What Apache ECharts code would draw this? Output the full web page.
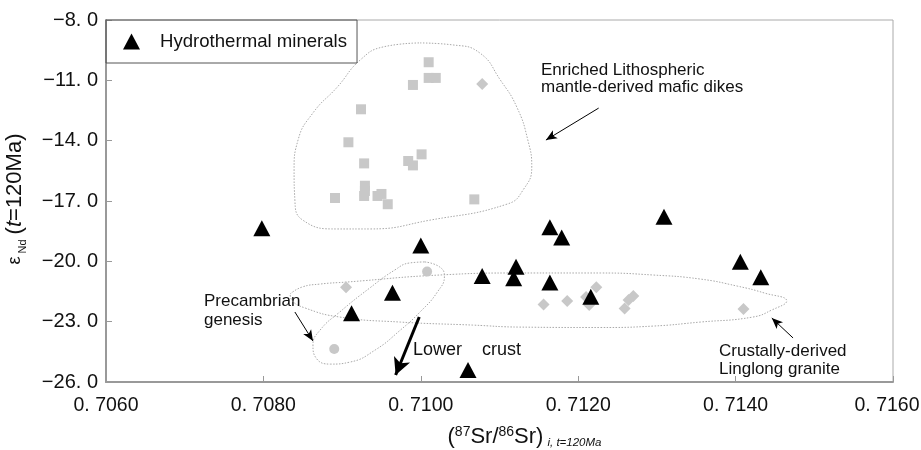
<!DOCTYPE html>
<html>
<head>
<meta charset="utf-8">
<script src="https://cdn.jsdelivr.net/npm/echarts@6/dist/echarts.min.js"></script>
<style>html,body{margin:0;padding:0;background:#fff;overflow:hidden}#c{width:921px;height:450px}</style>
</head>
<body>
<div id="c"></div>
<script>
// ---- data (x = (87Sr/86Sr)i, y = eNd(t)) ----
const xTicks = [0.706, 0.708, 0.710, 0.712, 0.714, 0.716];
const yTicks = [-26, -23, -20, -17, -14, -11, -8];

const hydrothermal = [
  [0.70798,-18.36],[0.71000,-19.21],[0.70964,-21.56],[0.70912,-22.58],[0.71060,-25.40],
  [0.71078,-20.73],[0.71121,-20.27],[0.71118,-20.84],[0.71164,-18.30],[0.71179,-18.82],
  [0.71164,-21.05],[0.71216,-21.76],[0.71309,-17.78],[0.71406,-20.02],[0.71432,-20.79]
];
const maficSquares = [
  [0.71010,-10.10],[0.71010,-10.88],[0.71019,-10.88],[0.70990,-11.23],[0.70924,-12.44],
  [0.70908,-14.08],[0.70928,-15.13],[0.71001,-14.68],[0.70984,-15.01],[0.70990,-15.23],
  [0.70929,-16.24],[0.70929,-16.50],[0.70928,-16.75],[0.70891,-16.85],[0.70945,-16.75],
  [0.70950,-16.65],[0.70958,-17.16],[0.71068,-16.92]
];
const grayDiamonds = [
  [0.71078,-11.18],
  [0.70905,-21.29],[0.71156,-22.15],[0.71186,-21.97],[0.71210,-21.77],[0.71214,-22.17],
  [0.71223,-21.29],[0.71259,-22.34],[0.71264,-21.92],[0.71270,-21.72],[0.71410,-22.37]
];
const precambrianCircles = [[0.71008,-20.51],[0.70890,-24.36]];

// envelope outlines
const enrichedField = [
  [0.70999,-9.14],[0.71041,-9.24],[0.71075,-9.64],[0.71101,-10.98],[0.71122,-12.33],
  [0.71136,-13.97],[0.71141,-15.31],[0.71130,-16.45],[0.71110,-17.15],[0.71012,-17.95],
  [0.70935,-18.39],[0.70894,-18.39],[0.70850,-17.95],[0.70840,-16.95],[0.70839,-15.46],
  [0.70844,-13.97],[0.70863,-12.62],[0.70894,-11.33],[0.70923,-9.99],[0.70952,-9.34],
  [0.70999,-9.14]
];
const linglongField = [
  [0.70834,-21.62],[0.70849,-21.28],[0.70872,-21.13],[0.70906,-21.03],[0.71024,-20.68],
  [0.71126,-20.58],[0.71228,-20.58],[0.71295,-20.68],[0.71355,-20.88],[0.71402,-21.23],
  [0.71437,-21.58],[0.71465,-21.97],[0.71446,-22.42],[0.71422,-22.77],[0.71355,-23.02],
  [0.71295,-23.22],[0.71228,-23.29],[0.71126,-23.27],[0.71066,-23.17],[0.70974,-23.02],
  [0.70897,-22.77],[0.70853,-22.32],[0.70836,-21.92],[0.70834,-21.62]
];
const precambrianField = [
  [0.71005,-20.03],[0.71024,-20.28],[0.71030,-20.73],[0.71021,-21.53],[0.70999,-22.52],
  [0.70974,-23.42],[0.70942,-24.41],[0.70910,-25.01],[0.70885,-25.11],[0.70867,-24.81],
  [0.70863,-24.16],[0.70872,-23.42],[0.70897,-22.52],[0.70935,-21.33],[0.70967,-20.43],
  [0.70986,-20.08],[0.71005,-20.03]
];
// annotation arrows [start, end]
const arrowEnriched = [[0.71226,-12.38],[0.71159,-13.97]];
const arrowPrecambrian = [[0.70840,-22.52],[0.70863,-23.96]];
const arrowLowerCrust = [[0.70998,-22.77],[0.70968,-25.65]];
const arrowLinglong = [[0.71473,-23.81],[0.71446,-22.82]];

const FONT = '"Liberation Sans", Arial, sans-serif';
const TXT = '#111';
const GRAY = '#c8c8c8';

const chart = echarts.init(document.getElementById('c'), null, {renderer:'canvas', width:921, height:450});

function envelope(data){
  return {type:'line', data:data, smooth:0.5, symbol:'none', silent:true, z:1,
    lineStyle:{color:'#a8a8a8', width:1, type:[1.5,1.5]}};
}
function arrow(a, w, size){
  return [
    {coord:a[0], symbol:'none'},
    {coord:a[1], symbol:'arrow', symbolSize:size, lineStyle:{width:w, color:'#000', type:'solid'}}
  ];
}
const xMax = xTicks[xTicks.length-1];

chart.setOption({
  animation:false,
  grid:{left:106, right:28, top:20, bottom:68, show:true, borderColor:'#aaa', borderWidth:1,
    containLabel:false, outerBoundsMode:'none'},
  legend:{
    data:['Hydrothermal minerals'], left:106, top:20, orient:'horizontal',
    borderColor:'#555', borderWidth:1, borderRadius:0, padding:[12,10,12,17],
    itemWidth:17, itemHeight:16, itemGap:0,
    itemStyle:{opacity:1},
    textStyle:{fontFamily:FONT, fontSize:18.6, color:TXT, padding:[0,0,0,15]}
  },
  xAxis:{
    type:'value', min:xTicks[0], max:xMax, interval:xTicks[1]-xTicks[0],
    splitLine:{show:false},
    axisLine:{onZero:false, lineStyle:{color:'#999', width:2}},
    axisTick:{inside:true, length:6, lineStyle:{color:'#999', width:1}},
    axisLabel:{fontFamily:FONT, fontSize:19.5, color:TXT, margin:14,
      formatter:v=>{
        const s = v.toFixed(4).replace('.', '. ');
        return Math.abs(v - xMax) < 1e-9 ? '{last|' + s + '}' : s;
      },
      rich:{last:{fontFamily:FONT, fontSize:19.5, color:TXT, padding:[0,12,0,0]}}},
    name:'({sup|87}Sr/{sup|86}Sr){sub|i, t=120Ma}',
    nameLocation:'middle', nameGap:43,
    nameTextStyle:{fontFamily:FONT, fontSize:22, color:TXT, lineHeight:24, padding:[0,0,0,50],
      rich:{
        sup:{fontSize:14, fontFamily:FONT, color:TXT, verticalAlign:'top', lineHeight:24},
        sub:{fontSize:11.5, fontFamily:FONT, color:TXT, fontStyle:'italic', verticalAlign:'bottom', lineHeight:24, padding:[0,0,0,4]}
      }}
  },
  yAxis:{
    type:'value', min:yTicks[0], max:yTicks[yTicks.length-1], interval:yTicks[1]-yTicks[0],
    splitLine:{show:false},
    axisLine:{onZero:false, lineStyle:{color:'#999', width:2}},
    axisTick:{inside:true, length:6, lineStyle:{color:'#999', width:1}},
    axisLabel:{fontFamily:FONT, fontSize:20, color:TXT, margin:8,
      formatter:v=>(v<0?'\u2212':'')+Math.abs(v).toFixed(1).replace('.', '. ')},
    name:'{e|\u03b5}{sub|Nd}({it|t}=120Ma)',
    nameLocation:'middle', nameRotate:90, nameGap:78,
    nameTextStyle:{fontFamily:FONT, fontSize:22, color:TXT, lineHeight:26, padding:[0,0,0,4],
      rich:{
        e:{fontSize:18, fontFamily:FONT, color:TXT, lineHeight:26},
        sub:{fontSize:11, fontFamily:FONT, color:TXT, verticalAlign:'bottom', lineHeight:26, padding:[0,5,0,3]},
        it:{fontSize:22, fontFamily:FONT, color:TXT, fontStyle:'italic', lineHeight:26}
      }}
  },
  series:[
    envelope(enrichedField),
    envelope(linglongField),
    envelope(precambrianField),
    {name:'mafic', type:'scatter', data:maficSquares, symbol:'rect', symbolSize:10, z:2,
      itemStyle:{color:GRAY, opacity:1}, silent:true},
    {name:'granite', type:'scatter', data:grayDiamonds, symbol:'diamond', symbolSize:[12,12], z:2,
      itemStyle:{color:GRAY, opacity:1}, silent:true},
    {name:'precambrian', type:'scatter', data:precambrianCircles, symbol:'circle', symbolSize:10, z:2,
      itemStyle:{color:GRAY, opacity:1}, silent:true,
      markLine:{silent:true, symbol:['none','arrow'], label:{show:false},
        lineStyle:{color:'#000', width:1, type:'solid'}, emphasis:{disabled:true},
        data:[
          arrow(arrowEnriched, 1, [7,11]),
          arrow(arrowPrecambrian, 1, [7,11]),
          arrow(arrowLowerCrust, 3, [13,17]),
          arrow(arrowLinglong, 1, [7,11])
        ]}},
    {name:'Hydrothermal minerals', type:'scatter', data:hydrothermal, symbol:'triangle',
      symbolSize:[17,16], z:5, itemStyle:{color:'#000', opacity:1}}
  ],
  graphic:[
    {type:'text', left:541, top:62, style:{text:'Enriched Lithospheric\nmantle-derived mafic dikes',
      font:'17px '+FONT, fill:TXT, lineHeight:17}},
    {type:'text', left:204, top:292, style:{text:'Precambrian\ngenesis',
      font:'17px '+FONT, fill:TXT, lineHeight:19}},
    {type:'text', left:413, top:341, style:{text:'Lower    crust',
      font:'18px '+FONT, fill:TXT}},
    {type:'text', left:719, top:342, style:{text:'Crustally-derived\nLinglong granite',
      font:'17px '+FONT, fill:TXT, lineHeight:18}}
  ]
});
</script>
</body>
</html>
